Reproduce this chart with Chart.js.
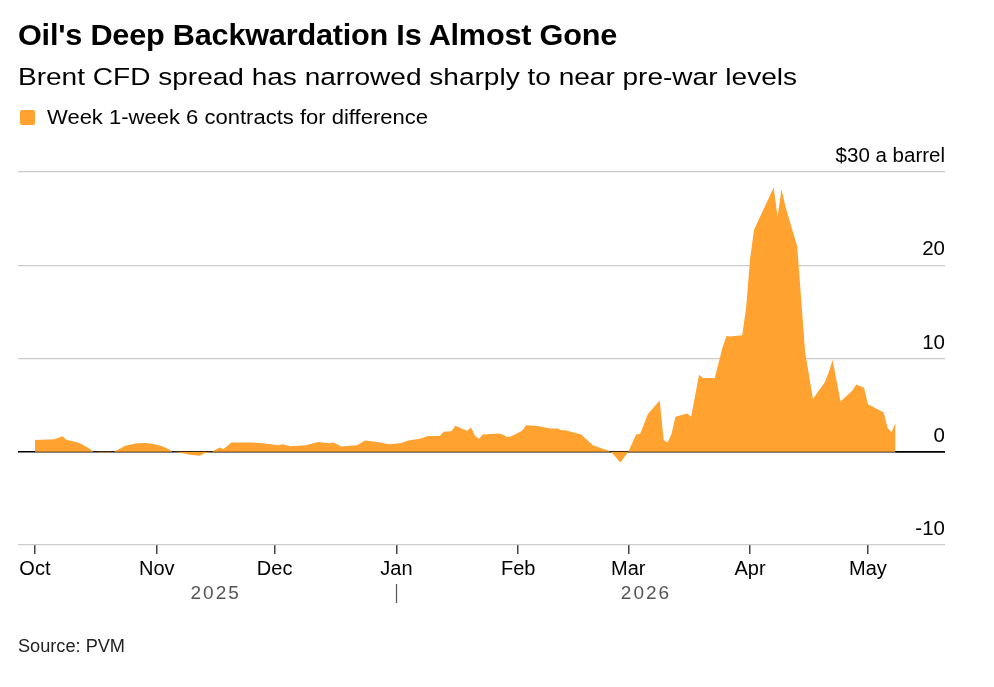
<!DOCTYPE html>
<html>
<head>
<meta charset="utf-8">
<script src="https://cdn.jsdelivr.net/npm/chart.js@4/dist/chart.umd.min.js"></script>
<style>
  html, body { margin: 0; padding: 0; background: #fff; }
  body { width: 994px; height: 687px; position: relative; overflow: hidden; font-family: "Liberation Sans", Arial, sans-serif; color: #000; }
  .t { position: absolute; white-space: nowrap; transform-origin: 0 50%; }
  #title { left: 18px; top: 19px; font-size: 29px; font-weight: bold; letter-spacing: -0.2px; }
  #subtitle { left: 18px; top: 63px; font-size: 24.5px; }
  #legend { left: 20px; top: 106px; font-size: 20px; display: flex; align-items: center; }
  #legend .sw { width: 15px; height: 15px; background: #ffa22f; border-radius: 2px; margin-right: 12px; flex: none; }
  #legtext { display: inline-block; transform-origin: 0 50%; white-space: nowrap; }
  #source { left: 18px; top: 636px; font-size: 17.5px; color: #222; }
  #wrap { position: absolute; left: 0; top: 0; width: 994px; height: 687px; }
</style>
</head>
<body>
<div id="wrap"><canvas id="c"></canvas></div>
<div class="t" id="title">Oil's Deep Backwardation Is Almost Gone</div>
<div class="t" id="subtitle">Brent CFD spread has narrowed sharply to near pre-war levels</div>
<div class="t" id="legend"><span class="sw"></span><span id="legtext">Week 1-week 6 contracts for difference</span></div>
<div class="t" id="source">Source: PVM</div>
<script>
// ---- Data ----
const dates = [
  "2025-10-01","2025-10-06","2025-10-08","2025-10-09","2025-10-12","2025-10-14","2025-10-16","2025-10-18","2025-10-20","2025-10-21",
  "2025-10-22","2025-10-24","2025-10-27","2025-10-29","2025-10-31","2025-11-02","2025-11-04","2025-11-05","2025-11-07","2025-11-09",
  "2025-11-12","2025-11-13","2025-11-15","2025-11-17","2025-11-18","2025-11-20","2025-11-25","2025-11-28","2025-12-02","2025-12-03",
  "2025-12-05","2025-12-09","2025-12-12","2025-12-15","2025-12-16","2025-12-18","2025-12-22","2025-12-24","2025-12-28","2025-12-30",
  "2026-01-02","2026-01-04","2026-01-07","2026-01-09","2026-01-12","2026-01-13","2026-01-15","2026-01-16","2026-01-18","2026-01-19",
  "2026-01-20","2026-01-21","2026-01-22","2026-01-23","2026-01-27","2026-01-28","2026-01-29","2026-01-30","2026-02-02","2026-02-03",
  "2026-02-06","2026-02-09","2026-02-11","2026-02-12","2026-02-13","2026-02-17","2026-02-20","2026-02-24","2026-02-25","2026-02-27",
  "2026-03-01","2026-03-03","2026-03-04","2026-03-06","2026-03-09","2026-03-10","2026-03-11","2026-03-12","2026-03-13","2026-03-16",
  "2026-03-17","2026-03-19","2026-03-20","2026-03-23","2026-03-25","2026-03-26","2026-03-27","2026-03-30","2026-03-31","2026-04-01",
  "2026-04-02","2026-04-07","2026-04-08","2026-04-09","2026-04-10","2026-04-13","2026-04-15","2026-04-17","2026-04-20","2026-04-21",
  "2026-04-22","2026-04-24","2026-04-27","2026-04-28","2026-04-30","2026-05-01","2026-05-05","2026-05-06","2026-05-07","2026-05-08"
];
const spread = [
  1.25,1.35,1.65,1.3,1.0,0.55,0.0,-0.05,-0.05,0.0,
  0.2,0.65,0.9,0.95,0.85,0.65,0.3,0.0,-0.1,-0.3,
  -0.43,-0.2,0.0,0.45,0.3,1.0,1.0,0.9,0.7,0.8,
  0.6,0.7,1.05,0.9,1.0,0.55,0.7,1.2,1.0,0.8,
  0.9,1.2,1.4,1.7,1.7,2.15,2.2,2.8,2.4,2.25,
  2.6,1.7,1.4,1.85,1.95,1.85,1.6,1.6,2.25,2.85,
  2.75,2.5,2.5,2.3,2.3,1.85,0.7,0.1,-0.2,-1.15,
  0.0,1.85,1.9,4.05,5.5,1.25,1.0,1.9,3.75,4.1,
  3.75,8.25,7.9,7.9,11.2,12.4,12.35,12.5,15.5,20.7,
  23.8,28.35,25.2,28.15,26.3,22.0,10.7,5.65,7.45,8.5,
  9.85,5.4,6.55,7.2,6.85,5.1,4.2,2.55,2.1,3.1
];
const monthTicks = ["2025-10-01","2025-11-01","2025-12-01","2026-01-01","2026-02-01","2026-03-01","2026-04-01","2026-05-01"];
const monthLabels = ["Oct","Nov","Dec","Jan","Feb","Mar","Apr","May"];
const yTicks = [-10, 0, 10, 20, 30];
const yearLabels = ["2025", "2026"];
const seriesName = "Week 1-week 6 contracts for difference";

// ---- Stretch header text horizontally to the reference widths ----
function fitWidth(id, target) {
  const el = document.getElementById(id);
  const w = el.getBoundingClientRect().width;
  el.style.transform = "scaleX(" + (target / w) + ")";
}
fitWidth("title", 599);
fitWidth("subtitle", 779);
fitWidth("legtext", 381);
fitWidth("source", 107);

// ---- Helpers ----
const BASE = Date.UTC(2025, 9, 1);
function dayIndex(s) {
  const p = s.split("-").map(Number);
  return (Date.UTC(p[0], p[1] - 1, p[2]) - BASE) / 86400000;
}
const points = dates.map((d, i) => ({ x: dayIndex(d), y: spread[i] }));
const monthTickVals = monthTicks.map(dayIndex);
const lastX = points[points.length - 1].x;

const ORANGE = "#ffa22f";
const FONT = "Liberation Sans, Arial, sans-serif";

const yearPlugin = {
  id: "yearLabels",
  afterDraw(chart) {
    const ctx = chart.ctx;
    const xs = chart.scales.x;
    const y0 = 594;
    const janX = xs.getPixelForValue(dayIndex("2026-01-01"));
    const octX = xs.getPixelForValue(dayIndex("2025-10-01"));
    const endX = xs.getPixelForValue(lastX);
    ctx.save();
    ctx.fillStyle = "#555";
    ctx.font = "19px " + FONT;
    ctx.textAlign = "center";
    ctx.textBaseline = "middle";
    if ("letterSpacing" in ctx) ctx.letterSpacing = "2px";
    ctx.fillText(yearLabels[0], (octX + janX) / 2, y0);
    ctx.fillText(yearLabels[1], (janX + endX) / 2, y0);
    ctx.strokeStyle = "#555";
    ctx.lineWidth = 1.2;
    ctx.beginPath();
    ctx.moveTo(Math.round(janX) + 0.5, y0 - 10);
    ctx.lineTo(Math.round(janX) + 0.5, y0 + 9);
    ctx.stroke();
    ctx.restore();
  }
};

const yLabelPlugin = {
  id: "yLabels",
  afterDraw(chart) {
    const ctx = chart.ctx;
    const ys = chart.scales.y;
    const right = chart.chartArea.right;
    ctx.save();
    ctx.fillStyle = "#000";
    ctx.font = "20.5px " + FONT;
    ctx.textAlign = "right";
    ctx.textBaseline = "alphabetic";
    yTicks.forEach(v => {
      const label = v === 30 ? "$30 a barrel" : String(v);
      ctx.fillText(label, right, ys.getPixelForValue(v) - 10);
    });
    ctx.restore();
  }
};

const zeroLinePlugin = {
  id: "zeroLine",
  afterDatasetsDraw(chart) {
    const ctx = chart.ctx;
    const ys = chart.scales.y;
    const xs = chart.scales.x;
    const y = ys.getPixelForValue(0);
    const x0 = xs.getPixelForValue(lastX);
    ctx.save();
    ctx.strokeStyle = "#000";
    ctx.lineWidth = 1.5;
    ctx.beginPath();
    ctx.moveTo(x0, y);
    ctx.lineTo(chart.chartArea.right, y);
    ctx.stroke();
    ctx.restore();
  }
};

new Chart(document.getElementById("c"), {
  type: "line",
  data: {
    datasets: [{
      label: seriesName,
      data: points,
      fill: "origin",
      backgroundColor: ORANGE,
      borderWidth: 0,
      borderColor: ORANGE,
      pointRadius: 0,
      tension: 0
    }]
  },
  options: {
    responsive: true,
    maintainAspectRatio: false,
    animation: false,
    layout: { padding: { left: 18, right: 49, top: 172, bottom: 103 } },
    plugins: { legend: { display: false }, tooltip: { enabled: false } },
    scales: {
      x: {
        type: "linear",
        min: -4.3,
        max: 231.6,
        afterBuildTicks(scale) { scale.ticks = monthTickVals.map(v => ({ value: v })); },
        ticks: {
          callback(v) { const i = monthTickVals.indexOf(v); return i >= 0 ? monthLabels[i] : ""; },
          color: "#000",
          font: { family: FONT, size: 20 },
          padding: 3,
          maxRotation: 0,
          autoSkip: false
        },
        grid: { drawOnChartArea: false, drawTicks: true, tickLength: 9, color: "#444", lineWidth: 1.5 },
        border: { display: false }
      },
      y: {
        position: "right",
        min: -10,
        max: 30,
        afterBuildTicks(scale) { scale.ticks = yTicks.map(v => ({ value: v })); },
        ticks: { display: false },
        grid: {
          drawTicks: false,
          color: ctx => (ctx.tick && ctx.tick.value === 0) ? "#000" : "#cccccc",
          lineWidth: ctx => (ctx.tick && ctx.tick.value === 0) ? 1.5 : 1.2
        },
        border: { display: false }
      }
    }
  },
  plugins: [yearPlugin, yLabelPlugin, zeroLinePlugin]
});
</script>
</body>
</html>
